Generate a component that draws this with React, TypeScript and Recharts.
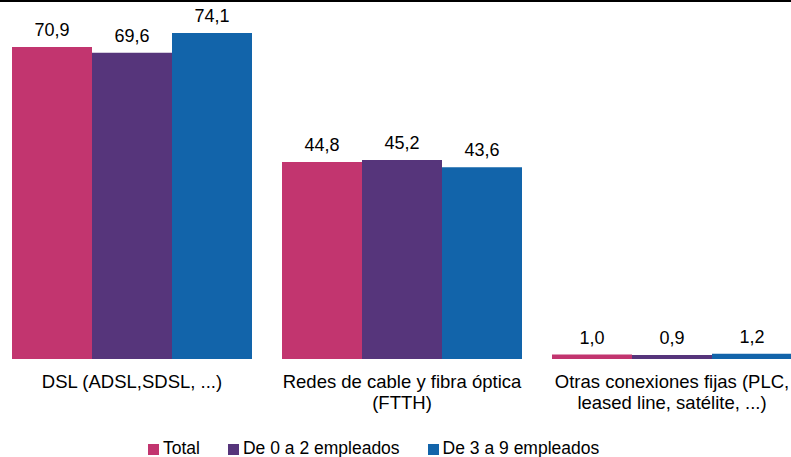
import React from 'react';
import { BarChart, Bar, XAxis, YAxis, Legend, LabelList } from 'recharts';

const categories = ['DSL', 'Cable', 'Otras'];
const categoryLines: string[][] = [
  ['DSL (ADSL,SDSL, ...)'],
  ['Redes de cable y fibra óptica', '(FTTH)'],
  ['Otras conexiones fijas (PLC,', 'leased line, satélite, ...)'],
];
const totalValues = [70.9, 44.8, 1.0];
const small02Values = [69.6, 45.2, 0.9];
const small39Values = [74.1, 43.6, 1.2];
const seriesNames = ['Total', 'De 0 a 2 empleados', 'De 3 a 9 empleados'];
const colors = ['#C2356F', '#56357B', '#1264AA'];

const data = categories.map((c, i) => ({
  cat: c,
  total: totalValues[i],
  s02: small02Values[i],
  s39: small39Values[i],
}));

const FONT = '"Liberation Sans", Arial, sans-serif';

const fmt = (v: any) => Number(v).toFixed(1).replace('.', ',');

const CatTick = (props: any) => {
  const { x, y, payload } = props;
  const idx = categories.indexOf(payload.value);
  const lines = idx >= 0 ? categoryLines[idx] : [String(payload.value)];
  return (
    <text x={x} y={y} textAnchor="middle" fontFamily={FONT} fontSize={18.5} fill="#000">
      {lines.map((l, i) => (
        <tspan key={i} x={x} dy={i === 0 ? 29 : 20.5}>
          {l}
        </tspan>
      ))}
    </text>
  );
};

const LegendContent = () => (
  <div style={{ display: 'flex', fontFamily: FONT, fontSize: 17.5, lineHeight: '20px', color: '#000', whiteSpace: 'nowrap' }}>
    {seriesNames.map((n, i) => (
      <div key={n} style={{ display: 'flex', alignItems: 'center', marginRight: 28 }}>
        <span style={{ display: 'inline-block', width: 11, height: 11, background: colors[i], marginRight: 4, marginTop: 3 }} />
        <span>{n}</span>
      </div>
    ))}
  </div>
);

export default function App() {
  return (
    <div style={{ position: 'absolute', left: 0, top: 0, width: 791, height: 457, overflow: 'hidden', background: '#fff' }}>
      <div style={{ position: 'absolute', left: 0, top: 0, width: 791, height: 2, background: '#000' }} />
      <div style={{ position: 'absolute', left: -3, top: 0 }}>
        <BarChart
          width={810}
          height={457}
          data={data}
          margin={{ top: 7, right: 0, left: 0, bottom: 0 }}
          barCategoryGap={15}
          barGap={0}
        >
          <XAxis
            dataKey="cat"
            axisLine={false}
            tickLine={false}
            tickSize={0}
            tickMargin={0}
            height={68}
            interval={0}
            tick={<CatTick />}
          />
          <YAxis hide domain={[0, 80]} />
          <Legend
            verticalAlign="bottom"
            align="left"
            height={30}
            content={<LegendContent />}
            wrapperStyle={{ left: 151, top: 437.5, width: 'auto' }}
          />
          <Bar dataKey="total" name={seriesNames[0]} fill={colors[0]} isAnimationActive={false}>
            <LabelList dataKey="total" position="top" offset={11} formatter={fmt} fill="#000" fontSize={18} fontFamily={FONT} />
          </Bar>
          <Bar dataKey="s02" name={seriesNames[1]} fill={colors[1]} isAnimationActive={false}>
            <LabelList dataKey="s02" position="top" offset={11} formatter={fmt} fill="#000" fontSize={18} fontFamily={FONT} />
          </Bar>
          <Bar dataKey="s39" name={seriesNames[2]} fill={colors[2]} isAnimationActive={false}>
            <LabelList dataKey="s39" position="top" offset={11} formatter={fmt} fill="#000" fontSize={18} fontFamily={FONT} />
          </Bar>
        </BarChart>
      </div>
    </div>
  );
}
